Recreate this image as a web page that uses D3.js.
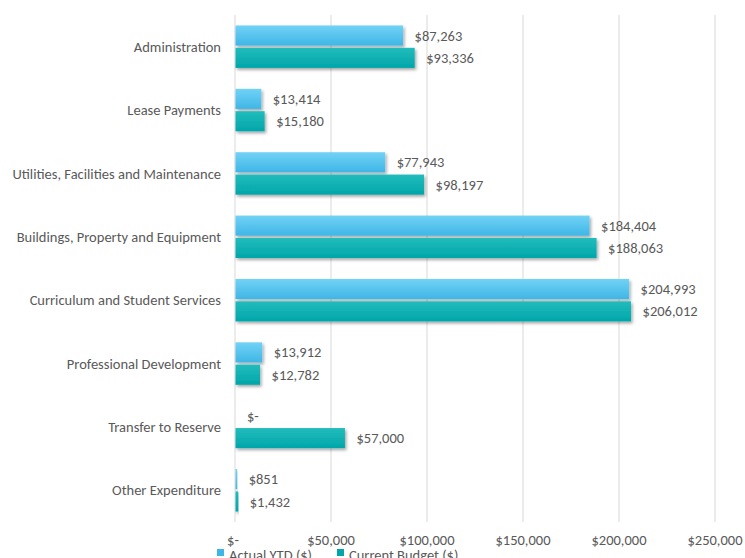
<!DOCTYPE html>
<html>
<head>
  <script src="https://cdn.jsdelivr.net/npm/d3@7"></script>
  <style>
    body { margin: 0; background: #fff; font-family: Carlito, Lato, "Open Sans", sans-serif; }
  </style>
</head>
<body>
  <main id="container"></main>
  <script>
    const categories = [
      "Administration",
      "Lease Payments",
      "Utilities, Facilities and Maintenance",
      "Buildings, Property and Equipment",
      "Curriculum and Student Services",
      "Professional Development",
      "Transfer to Reserve",
      "Other Expenditure"
    ];
    const actualYTD = [87263, 13414, 77943, 184404, 204993, 13912, 0, 851];
    const currentBudget = [93336, 15180, 98197, 188063, 206012, 12782, 57000, 1432];
    const seriesNames = ["Actual YTD ($)", "Current Budget ($)"];
    const xTicks = [0, 50000, 100000, 150000, 200000, 250000];

    const vizWidth = 745, vizHeight = 558;
    const plotLeft = 235, plotRight = 715, plotTop = 15, plotBottom = 522;
    const textColor = "#595959";
    const fontSize = "14.5px";

    const svg = d3.select("#container").append("svg")
      .attr("width", vizWidth).attr("height", vizHeight);

    const defs = svg.append("defs");
    const grads = [["gA", "#72d2f6", "#3fb6e6"], ["gB", "#22bcbc", "#00a6aa"]];
    grads.forEach(([id, c1, c2]) => {
      const g = defs.append("linearGradient").attr("id", id)
        .attr("x1", 0).attr("y1", 0).attr("x2", 0).attr("y2", 1);
      g.append("stop").attr("offset", "0%").attr("stop-color", c1);
      g.append("stop").attr("offset", "100%").attr("stop-color", c2);
    });
    const f = defs.append("filter").attr("id", "shadow")
      .attr("x", "-10%").attr("y", "-30%").attr("width", "130%").attr("height", "180%");
    f.append("feDropShadow").attr("dx", 1.5).attr("dy", 2).attr("stdDeviation", 1.5)
      .attr("flood-color", "#000").attr("flood-opacity", 0.35);

    const x = d3.scaleLinear().domain([0, 250000]).range([plotLeft, plotRight]);
    const y = d3.scaleBand().domain(categories).range([plotTop, plotBottom]).paddingInner(0.33).paddingOuter(0.165);
    const inner = d3.scaleBand().domain([0, 1]).range([0, y.bandwidth()]).paddingInner(0.1);

    // gridlines
    svg.append("g").selectAll("line").data(xTicks).join("line")
      .attr("x1", d => x(d)).attr("x2", d => x(d))
      .attr("y1", plotTop).attr("y2", plotBottom)
      .attr("stroke", "#d9d9d9").attr("stroke-width", 1);

    const fmt = v => v === 0 ? "$-" : "$" + d3.format(",")(v);

    // x tick labels
    svg.append("g").selectAll("text").data(xTicks).join("text")
      .attr("x", d => x(d) + (d === 0 ? -2 : 0)).attr("y", 545)
      .attr("text-anchor", "middle")
      .attr("fill", textColor).style("font-size", fontSize)
      .text(fmt);

    // category labels
    svg.append("g").selectAll("text").data(categories).join("text")
      .attr("x", 221).attr("y", d => y(d) + y.bandwidth() / 2)
      .attr("dy", "0.35em").attr("text-anchor", "end")
      .attr("fill", textColor).style("font-size", fontSize)
      .text(d => d);

    const series = [actualYTD, currentBudget];
    series.forEach((vals, s) => {
      const g = svg.append("g");
      g.selectAll("rect").data(vals).join("rect")
        .attr("x", x(0) + 0.5)
        .attr("y", (d, i) => y(categories[i]) + inner(s))
        .attr("width", d => Math.max(0, x(d) - x(0)))
        .attr("height", inner.bandwidth())
        .attr("fill", `url(#${grads[s][0]})`)
        .attr("filter", d => d > 0 ? "url(#shadow)" : null);
      g.selectAll("text").data(vals).join("text")
        .attr("x", d => x(d) + 12)
        .attr("y", (d, i) => y(categories[i]) + inner(s) + inner.bandwidth() / 2)
        .attr("dy", "0.35em")
        .attr("fill", textColor).style("font-size", fontSize)
        .text(fmt);
    });

    // legend (partly cut off at the bottom edge, as in the reference)
    const legendX = [217, 337];
    const lg = svg.append("g");
    seriesNames.forEach((name, s) => {
      lg.append("rect").attr("x", legendX[s]).attr("y", 549).attr("width", 7).attr("height", 7)
        .attr("fill", grads[s][2]);
      lg.append("text").attr("x", legendX[s] + 12).attr("y", 560)
        .attr("fill", textColor).style("font-size", fontSize).text(name);
    });
  </script>
</body>
</html>
